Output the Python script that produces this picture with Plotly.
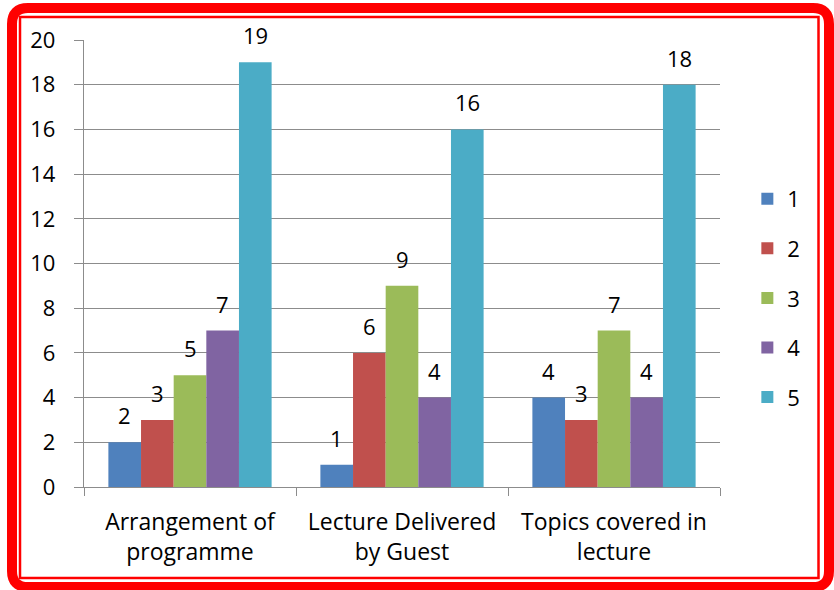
import plotly.graph_objects as go

categories = ["Arrangement of<br>programme", "Lecture Delivered<br>by Guest", "Topics covered in<br>lecture"]
series_names = ["1", "2", "3", "4", "5"]
s1 = [2, 1, 4]
s2 = [3, 6, 3]
s3 = [5, 9, 7]
s4 = [7, 4, 4]
s5 = [19, 16, 18]
series_values = [s1, s2, s3, s4, s5]
colors = ["#4F81BD", "#C0504D", "#9BBB59", "#8064A2", "#4BACC6"]
y_ticks = list(range(0, 21, 2))

FONT = "Open Sans"
FS = 22
W, H = 834, 590
L, R, T, B = 84, 114, 40, 103
BARGAP = 0.23

fig = go.Figure()
for name, vals, col in zip(series_names, series_values, colors):
    fig.add_trace(go.Bar(x=categories, y=vals, name=name, marker=dict(color=col, line=dict(width=0)),
                         legendgroup=name))

# value labels via annotations aligned to grouped bar positions
n = len(series_values)
bw = (1 - BARGAP) / n
for k, vals in enumerate(series_values):
    for i, v in enumerate(vals):
        xo = i - (1 - BARGAP) / 2 + (k + 0.5) * bw
        fig.add_annotation(x=xo, y=v, xref="x", yref="y", text=str(v), showarrow=False,
                           yanchor="middle", yshift=27, font=dict(size=FS, color="black", family=FONT))

pw = W - L - R
ph = H - T - B
def px(x):
    return (x - L) / pw
def py(y):
    return (H - B - y) / ph

# outer thick rounded red border
x0, x1, y0, y1, r = 12, 829, 8, 587, 16
path = (f"M {px(x0 + r)},{py(y0)} L {px(x1 - r)},{py(y0)} Q {px(x1)},{py(y0)} {px(x1)},{py(y0 + r)} "
        f"L {px(x1)},{py(y1 - r)} Q {px(x1)},{py(y1)} {px(x1 - r)},{py(y1)} "
        f"L {px(x0 + r)},{py(y1)} Q {px(x0)},{py(y1)} {px(x0)},{py(y1 - r)} "
        f"L {px(x0)},{py(y0 + r)} Q {px(x0)},{py(y0)} {px(x0 + r)},{py(y0)} Z")
fig.add_shape(type="path", path=path, xref="paper", yref="paper", line=dict(color="#FF0000", width=10), layer="below")
fig.add_shape(type="rect", x0=px(20), x1=px(818.5), y0=py(17), y1=py(578), xref="paper", yref="paper",
              line=dict(color="#FF0000", width=2.5), layer="below")

fig.update_layout(
    width=W, height=H,
    margin=dict(l=L, r=R, t=T, b=B, pad=0),
    paper_bgcolor="white", plot_bgcolor="white",
    barmode="group", bargap=BARGAP, bargroupgap=0,
    font=dict(family=FONT, size=FS, color="black"),
    showlegend=True,
    legend=dict(x=1.043, y=0.423, xanchor="left", yanchor="middle", tracegroupgap=18,
                font=dict(size=FS, family=FONT, color="black"), bgcolor="rgba(0,0,0,0)",
                itemwidth=30),
    xaxis=dict(type="category", tickson="boundaries", showgrid=False, ticks="outside", ticklen=8,
               tickcolor="#8c8c8c", tickwidth=1.3, showline=True, linecolor="#8c8c8c", linewidth=1.3,
               tickfont=dict(size=23, family=FONT, color="black"), ticklabelstandoff=14),
    yaxis=dict(range=[0, 20], tickvals=y_ticks, showgrid=True, gridcolor="#8c8c8c", gridwidth=1.3,
               ticks="outside", ticklen=9, tickcolor="#8c8c8c", tickwidth=1.3, showline=True,
               linecolor="#8c8c8c", linewidth=1.3, zeroline=False,
               tickfont=dict(size=FS, family=FONT, color="black"), ticklabelstandoff=14),
)

fig.write_html("out.html", config={"displayModeBar": False},
               post_script="document.body.style.margin='0';document.body.style.overflow='hidden';")
